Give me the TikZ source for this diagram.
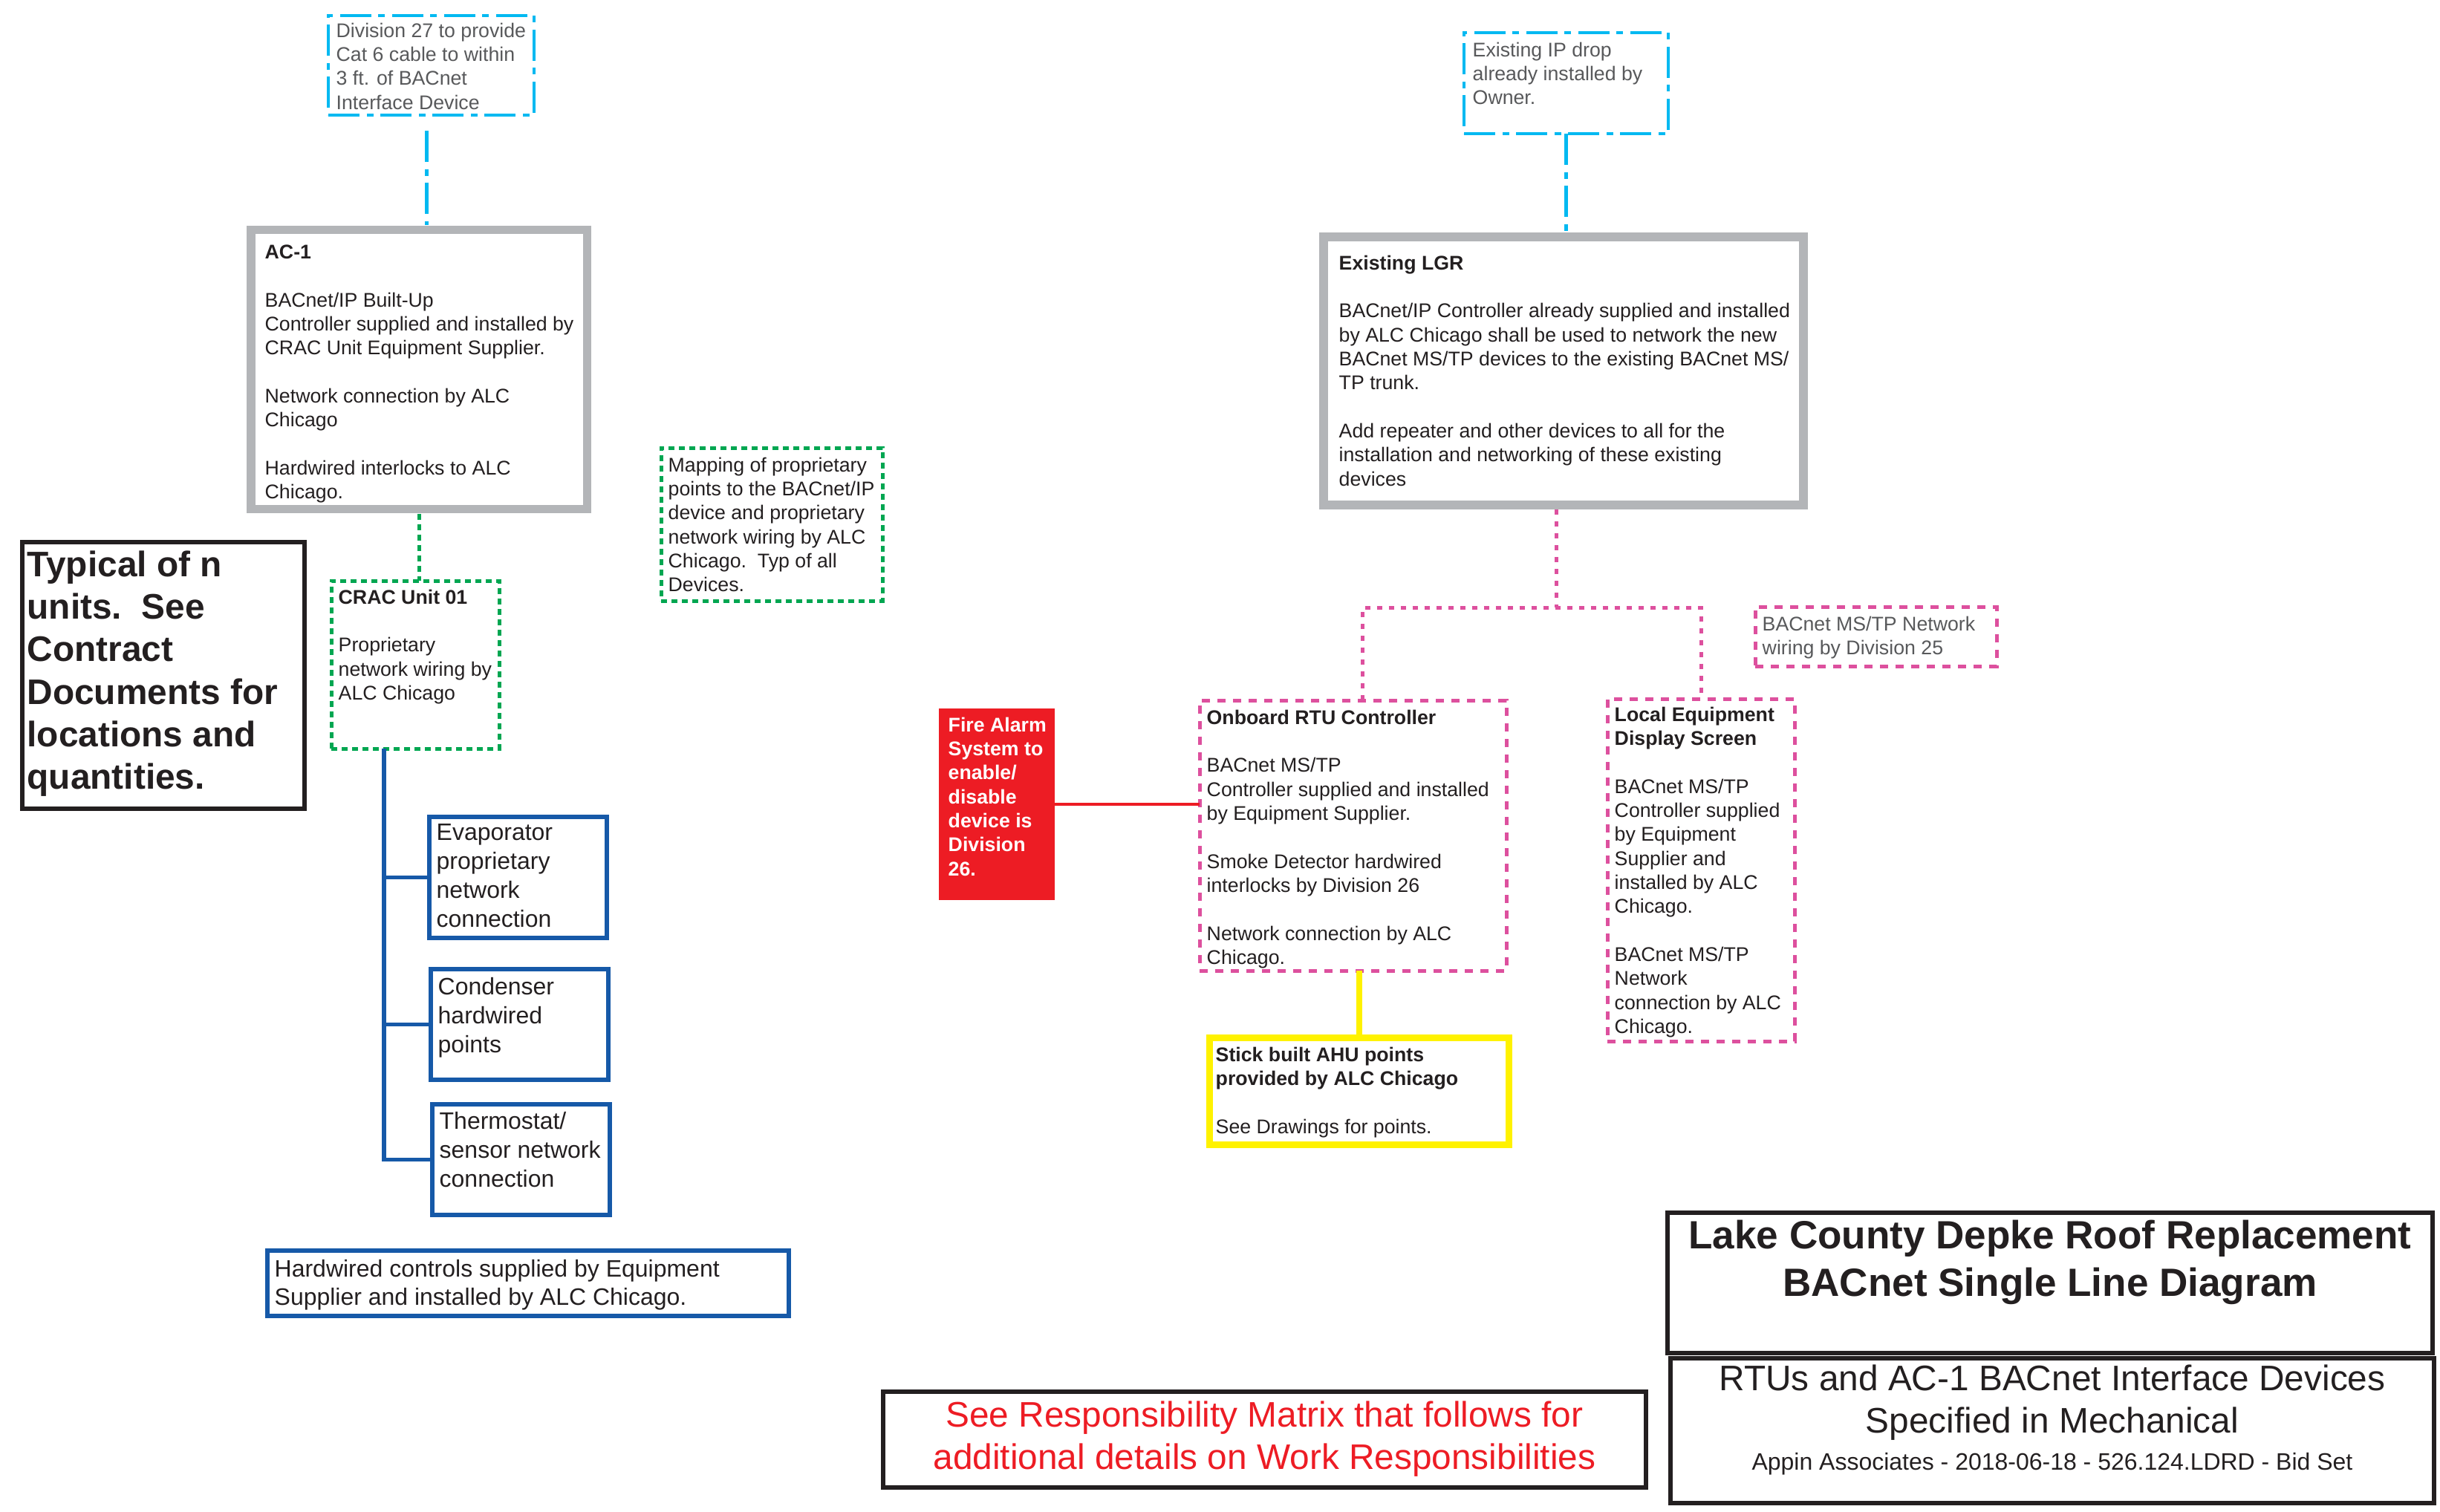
\documentclass[tikz,border=0pt]{standalone}
\usepackage{fontspec}
\setmainfont{Liberation Sans}
\usetikzlibrary{positioning, calc}
\definecolor{drop}{HTML}{00B9F1}
\definecolor{frame}{HTML}{B3B5B8}
\definecolor{prop}{HTML}{00A651}
\definecolor{mstp}{HTML}{DD509E}
\definecolor{wire}{HTML}{1659A8}
\definecolor{alarm}{HTML}{ED1C24}
\definecolor{ahu}{HTML}{FFF200}
\definecolor{ink}{HTML}{231F20}
\definecolor{note}{HTML}{58595B}
\tikzset{
	box/.style={rectangle, anchor=north west, inner sep=0pt, outer sep=0pt},
	txt/.style={anchor=north west, inner sep=0pt, align=left, text=ink, font=\fontsize{7.6}{9.2}\selectfont},
	dropbox/.style={box, draw=drop, line width=0.45mm, dash pattern=on 4.2mm off 1mm on 0.9mm off 0.9mm},
	dropline/.style={draw=drop, line width=0.45mm, dash pattern=on 4.2mm off 1mm on 0.9mm off 0.9mm},
	ctrlbox/.style={box, draw=frame, line width=1.15mm},
	propbox/.style={box, draw=prop, line width=0.5mm, dash pattern=on 0.8mm off 0.6mm},
	propline/.style={draw=prop, line width=0.5mm, dash pattern=on 0.8mm off 0.6mm},
	mstpbox/.style={box, draw=mstp, line width=0.5mm, dash pattern=on 1.1mm off 1mm},
	mstpline/.style={draw=mstp, line width=0.5mm, dash pattern=on 0.7mm off 0.9mm},
	pointbox/.style={box, draw=wire, line width=0.55mm},
	wireline/.style={draw=wire, line width=0.55mm},
	notebox/.style={box, draw=ink, line width=0.6mm},
	ahubox/.style={box, draw=ahu, line width=0.9mm},
	ahuline/.style={draw=ahu, line width=0.8mm},
	alarmbox/.style={box, fill=alarm},
	alarmline/.style={draw=alarm, line width=0.45mm}
}
\begin{document}
\begin{tikzpicture}[x=1mm, y=-1mm]
	\useasboundingbox (0,0) rectangle (328.5,203.6);
	
	% --- AC-1 side ---
	\node[dropbox, minimum width=27.7mm, minimum height=13.4mm] (div27) at (44.2,2.1) {};
	\node[txt, text=note] (div27txt) at ($(div27.north west)+(1.0,0.9)$) {Division 27 to provide\\Cat 6 cable to within\\3 ft. of BACnet\\Interface Device};
	
	\node[ctrlbox, minimum width=45.25mm, minimum height=37.6mm] (ac1) at (33.8,30.95) {};
	\node[txt] (ac1txt) at ($(ac1.north west)+(1.8,1.95)$) {\textbf{AC-1}\\~\\BACnet/IP Built-Up\\Controller supplied and installed by\\CRAC Unit Equipment Supplier.\\~\\Network connection by ALC\\Chicago\\~\\Hardwired interlocks to ALC\\Chicago.};
	
	\node[propbox, minimum width=22.6mm, minimum height=22.6mm] (crac) at (44.6,78.2) {};
	\node[txt] (cractxt) at ($(crac.north west)+(0.9,1.1)$) {\textbf{CRAC Unit 01}\\~\\Proprietary\\network wiring by\\ALC Chicago};
	
	\node[propbox, minimum width=29.8mm, minimum height=20.6mm] (mapping) at (89.0,60.3) {};
	\node[txt] (mappingtxt) at ($(mapping.north west)+(0.9,1.2)$) {Mapping of proprietary\\points to the BACnet/IP\\device and proprietary\\network wiring by ALC\\Chicago.\ \ Typ of all\\Devices.};
	
	\node[notebox, minimum width=38.0mm, minimum height=35.9mm] (typical) at (3.0,73.0) {};
	\node[txt, font=\fontsize{13.6}{16.3}\selectfont\bfseries] (typicaltxt) at ($(typical.north west)+(0.6,1.1)$) {Typical of n\\units.\ \ See\\Contract\\Documents for\\locations and\\quantities.};
	
	% --- points under the CRAC unit ---
	\node[pointbox, minimum width=23.9mm, minimum height=16.3mm] (evap) at (57.8,110.0) {};
	\node[txt, font=\fontsize{9.1}{11.1}\selectfont] (evaptxt) at ($(evap.north west)+(0.9,0.9)$) {Evaporator\\proprietary\\network\\connection};
	\node[pointbox, minimum width=23.9mm, minimum height=14.9mm] (cond) at (58.0,130.5) {};
	\node[txt, font=\fontsize{9.1}{11.1}\selectfont] (condtxt) at ($(cond.north west)+(0.9,1.1)$) {Condenser\\hardwired\\points};
	\node[pointbox, minimum width=23.9mm, minimum height=14.9mm] (thermo) at (58.2,148.7) {};
	\node[txt, font=\fontsize{9.1}{11.1}\selectfont] (thermotxt) at ($(thermo.north west)+(0.9,1.0)$) {Thermostat/\\sensor network\\connection};
	\node[pointbox, minimum width=70.2mm, minimum height=8.8mm] (hardwired) at (36.0,168.4) {};
	\node[txt, font=\fontsize{9.1}{10.7}\selectfont] (hardwiredtxt) at ($(hardwired.north west)+(0.9,1.2)$) {Hardwired controls supplied by Equipment\\Supplier and installed by ALC Chicago.};
	
	% --- LGR side ---
	\node[dropbox, minimum width=27.5mm, minimum height=13.6mm] (ipdrop) at (197.1,4.4) {};
	\node[txt, text=note] (ipdroptxt) at ($(ipdrop.north west)+(1.1,1.2)$) {Existing IP drop\\already installed by\\Owner.};
	
	\node[ctrlbox, minimum width=64.6mm, minimum height=36.1mm] (lgr) at (178.2,31.9) {};
	\node[txt] (lgrtxt) at ($(lgr.north west)+(2.0,2.4)$) {\textbf{Existing LGR}\\~\\BACnet/IP Controller already supplied and installed\\by ALC Chicago shall be used to network the new\\BACnet MS/TP devices to the existing BACnet MS/\\TP trunk.\\~\\Add repeater and other devices to all for the\\installation and networking of these existing\\devices};
	
	\node[mstpbox, minimum width=32.5mm, minimum height=8.0mm] (mstpnote) at (236.3,81.7) {};
	\node[txt, text=note] (mstpnotetxt) at ($(mstpnote.north west)+(0.9,1.2)$) {BACnet MS/TP Network\\wiring by Division 25};
	
	\node[mstpbox, minimum width=41.3mm, minimum height=36.4mm] (onboard) at (161.5,94.3) {};
	\node[txt] (onboardtxt) at ($(onboard.north west)+(0.9,1.2)$) {\textbf{Onboard RTU Controller}\\~\\BACnet MS/TP\\Controller supplied and installed\\by Equipment Supplier.\\~\\Smoke Detector hardwired\\interlocks by Division 26\\~\\Network connection by ALC\\Chicago.};
	
	\node[mstpbox, minimum width=25.2mm, minimum height=46.1mm] (local) at (216.4,94.1) {};
	\node[txt] (localtxt) at ($(local.north west)+(0.9,1.0)$) {\textbf{Local Equipment}\\\textbf{Display Screen}\\~\\BACnet MS/TP\\Controller supplied\\by Equipment\\Supplier and\\installed by ALC\\Chicago.\\~\\BACnet MS/TP\\Network\\connection by ALC\\Chicago.};
	
	\node[alarmbox, minimum width=15.6mm, minimum height=25.8mm] (fire) at (126.4,95.4) {};
	\node[txt, text=white, font=\fontsize{7.6}{9.2}\selectfont\bfseries] (firetxt) at ($(fire.north west)+(1.2,1.1)$) {Fire Alarm\\System to\\enable/\\disable\\device is\\Division\\26.};
	
	\node[ahubox, minimum width=40.3mm, minimum height=14.4mm] (stick) at (162.8,139.7) {};
	\node[txt] (sticktxt) at ($(stick.north west)+(0.8,1.2)$) {\textbf{Stick built AHU points}\\\textbf{provided by ALC Chicago}\\~\\See Drawings for points.};
	
	% --- title block and notes ---
	\node[notebox, line width=0.55mm, minimum width=103.0mm, minimum height=18.9mm] (title) at (224.5,163.3) {};
	\node[txt, anchor=north, align=center, font=\fontsize{15.1}{18.4}\selectfont\bfseries] (titletxt) at ($(title.north)+(0,0.9)$) {Lake County Depke Roof Replacement\\BACnet Single Line Diagram};
	\node[notebox, line width=0.55mm, minimum width=102.8mm, minimum height=19.5mm] (subtitle) at (224.9,182.9) {};
	\node[txt, anchor=north, align=center, font=\fontsize{13.6}{16.2}\selectfont] (subtitletxt) at ($(subtitle.north)+(0,0.8)$) {RTUs and AC-1 BACnet Interface Devices\\Specified in Mechanical\\[-2pt]{\fontsize{9.1}{11}\selectfont Appin Associates - 2018-06-18 - 526.124.LDRD - Bid Set}};
	\node[notebox, minimum width=102.7mm, minimum height=12.9mm] (resp) at (118.9,187.4) {};
	\node[txt, anchor=north, align=center, text=alarm, font=\fontsize{13.6}{16.2}\selectfont] (resptxt) at ($(resp.north)+(0,1.2)$) {See Responsibility Matrix that follows for\\additional details on Work Responsibilities};
	
	% --- connections ---
	\coordinate (div27tap) at ($(div27.south)+(-0.6,0)$);
	\draw[dropline, shorten <=2.1mm, shorten >=0.6mm] (div27tap) -- (div27tap |- ac1.north);
	\draw[dropline, shorten >=0.6mm] (ipdrop.south) -- (ipdrop.south |- lgr.north);
	\draw[propline, shorten <=0.6mm] (ac1.south) -- (ac1.south |- crac.north);
	
	% CRAC unit points bus
	\coordinate (trunk) at ($(crac.south west)+(7.1,0)$);
	\draw[wireline] (trunk) |- (evap.west);
	\draw[wireline] (trunk) |- (cond.west);
	\draw[wireline] (trunk) |- (thermo.west);
	
	% MS/TP trunk
	\coordinate (lgrtap) at ($(lgr.south)+(-1.0,0)$);
	\coordinate (bus) at ($(lgrtap)+(0,13.8)$);
	\draw[mstpline, shorten <=0.6mm] (lgrtap) -- (bus);
	\draw[mstpline] ($(onboard.north)+(1.3,0)$) |- (bus) -| (local.north);
	
	\draw[alarmline] (fire.east) -- (fire.east -| onboard.west);
	\draw[ahuline] (stick.north) -- (stick.north |- onboard.south);
	
\end{tikzpicture}
\end{document}
